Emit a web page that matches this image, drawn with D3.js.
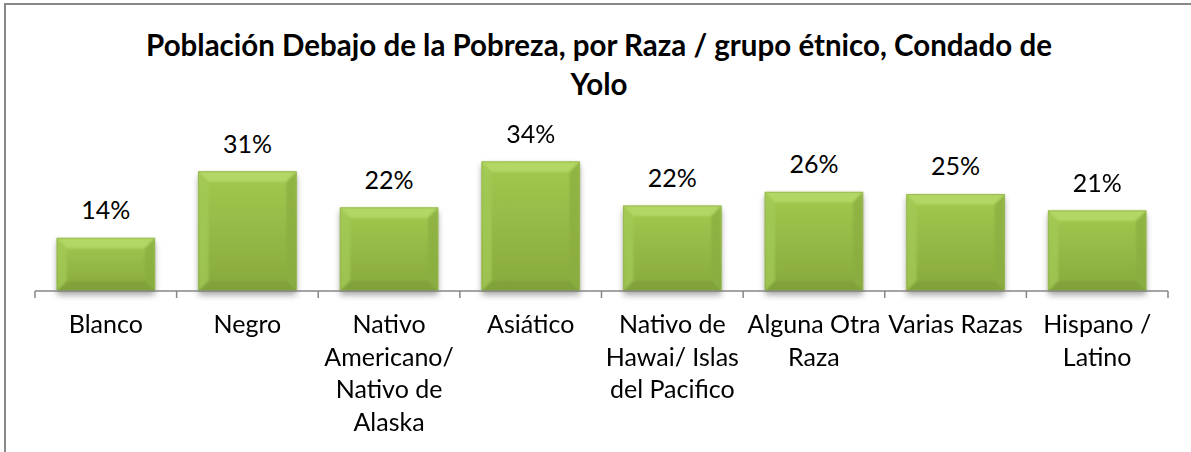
<!DOCTYPE html>
<html><head><meta charset="utf-8">
<script src="https://cdn.jsdelivr.net/npm/d3@7"></script>
<style>html,body{margin:0;padding:0;background:#fff;overflow:hidden}</style>
</head><body>
<svg id="chart" width="1191" height="452"></svg>
<script>
const titleLines = ["Población Debajo de la Pobreza, por Raza / grupo étnico, Condado de", "Yolo"];
const categories = ["Blanco", "Negro", "Nativo Americano/ Nativo de Alaska", "Asiático", "Nativo de Hawai/ Islas del Pacifico", "Alguna Otra Raza", "Varias Razas", "Hispano / Latino"];
const categoryLines = [["Blanco"], ["Negro"], ["Nativo", "Americano/", "Nativo de", "Alaska"], ["Asiático"], ["Nativo de", "Hawai/ Islas", "del Pacifico"], ["Alguna Otra", "Raza"], ["Varias Razas"], ["Hispano /", "Latino"]];
const values = [0.139, 0.314, 0.219, 0.340, 0.224, 0.260, 0.254, 0.211];

const svg = d3.select("#chart");
const FONT = "Lato, 'Open Sans', sans-serif";

// outer border
svg.append("rect").attr("x", 5).attr("y", 4).attr("width", 1200).attr("height", 500)
  .attr("fill", "#fff").attr("stroke", "#888").attr("stroke-width", 2);

const defs = svg.append("defs");
const g1 = defs.append("linearGradient").attr("id", "body").attr("x1", 0).attr("y1", 0).attr("x2", 0).attr("y2", 1);
g1.append("stop").attr("offset", "0%").attr("stop-color", "#a3c94f");
g1.append("stop").attr("offset", "100%").attr("stop-color", "#87a93d");
const sh = defs.append("filter").attr("id", "shadow").attr("x", "-20%").attr("y", "-20%").attr("width", "140%").attr("height", "140%");
sh.append("feDropShadow").attr("dx", 0).attr("dy", 4).attr("stdDeviation", 3).attr("flood-color", "#000").attr("flood-opacity", 0.35);
const bl = defs.append("filter").attr("id", "soft");
bl.append("feGaussianBlur").attr("stdDeviation", 1.2);

const x = d3.scaleBand().domain(categories).range([35, 1168]).paddingInner(0.31).paddingOuter(0.155);
const y = d3.scaleLinear().domain([0, 0.40]).range([291, 139]);
const fmt = d3.format(".0%");

// title
svg.append("g").selectAll("text").data(titleLines).join("text")
  .attr("x", 599).attr("y", (d, i) => 56 + i * 39)
  .attr("text-anchor", "middle").attr("font-family", FONT).attr("font-weight", "bold")
  .attr("font-size", 29.5).attr("fill", "#000").text(d => d);

// bars
const data = categories.map((c, i) => ({c, v: values[i]}));
const bars = svg.append("g").selectAll("g").data(data).join("g");
bars.append("rect")
  .attr("x", d => x(d.c)).attr("y", d => y(d.v))
  .attr("width", x.bandwidth()).attr("height", d => y(0) - y(d.v))
  .attr("fill", "url(#body)").attr("filter", "url(#shadow)");
const bev = 10;
function bevel(d, side) {
  const x0 = x(d.c), x1 = x0 + x.bandwidth(), y0 = y(d.v), y1 = y(0);
  if (side === "top") return [[x0, y0], [x1, y0], [x1 - bev, y0 + bev], [x0 + bev, y0 + bev]];
  if (side === "left") return [[x0, y0], [x0 + bev, y0 + bev], [x0 + bev, y1 - bev], [x0, y1]];
  if (side === "right") return [[x1, y0], [x1, y1], [x1 - bev, y1 - bev], [x1 - bev, y0 + bev]];
  return [[x0, y1], [x0 + bev, y1 - bev], [x1 - bev, y1 - bev], [x1, y1]];
}
const bevColors = {top: "#b9dc6c", left: "#a3c955", right: "#8bad42", bottom: "#7f9e38"};
const bevG = bars.append("g").attr("filter", "url(#soft)");
["top", "left", "right", "bottom"].forEach(s => {
  bevG.append("polygon").attr("points", d => bevel(d, s).map(p => p.join(",")).join(" "))
    .attr("fill", bevColors[s]).attr("opacity", 0.75);
});
bars.append("rect")
  .attr("x", d => x(d.c)).attr("y", d => y(d.v))
  .attr("width", x.bandwidth()).attr("height", d => y(0) - y(d.v))
  .attr("fill", "none").attr("stroke", "#93b24c").attr("stroke-width", 0.8);

// value labels
bars.append("text")
  .attr("x", d => x(d.c) + x.bandwidth() / 2).attr("y", d => y(d.v) - 19)
  .attr("text-anchor", "middle").attr("font-family", FONT).attr("font-size", 25)
  .attr("fill", "#000").text(d => fmt(d.v));

// axis
const step = x.step();
const tickXs = categories.map(c => x(c) - (step - x.bandwidth()) / 2).concat([x.range()[1]]);
const ax = svg.append("g");
ax.append("line").attr("x1", x.range()[0]).attr("x2", x.range()[1]).attr("y1", y(0)).attr("y2", y(0))
  .attr("stroke", "#868686").attr("stroke-width", 1.5);
ax.selectAll(".tick").data(tickXs).join("line")
  .attr("x1", d => d).attr("x2", d => d).attr("y1", y(0)).attr("y2", y(0) + 7)
  .attr("stroke", "#868686").attr("stroke-width", 1.5);

// category labels
const cl = svg.append("g").selectAll("text").data(data).join("text")
  .attr("text-anchor", "middle").attr("font-family", FONT).attr("font-size", 25).attr("fill", "#000");
cl.each(function(d, i) {
  d3.select(this).selectAll("tspan").data(categoryLines[i]).join("tspan")
    .attr("x", x(d.c) + x.bandwidth() / 2).attr("y", (t, j) => 333 + j * 32.5).text(t => t);
});
</script>
</body></html>
